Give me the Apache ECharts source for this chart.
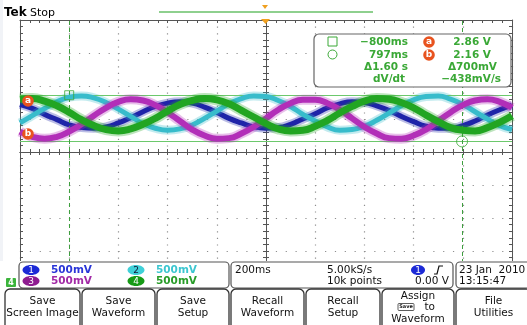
<!DOCTYPE html>
<html><head><meta charset="utf-8">
<script src="https://cdn.jsdelivr.net/npm/echarts@6/dist/echarts.min.js"></script>
<style>html,body{margin:0;padding:0;background:#fff}#c{width:527px;height:325px}</style>
</head><body><div id="c"></div>
<script>
// time (ms) relative to trigger, 200 ms/div
const times = [-1000,-950,-900,-850,-800,-750,-700,-650,-600,-550,-500,-450,-400,-350,-300,-250,-200,-150,-100,-50,0,50,100,150,200,250,300,350,400,450,500,550,600,650,700,750,800,850,900,950,1000];
// channel voltages (V), 500 mV/div
const ch1 = [2.72,2.66,2.57,2.49,2.41,2.37,2.36,2.38,2.44,2.52,2.61,2.69,2.74,2.76,2.74,2.68,2.60,2.51,2.44,2.38,2.36,2.37,2.42,2.50,2.58,2.67,2.73,2.76,2.75,2.70,2.63,2.54,2.46,2.39,2.36,2.36,2.40,2.47,2.56,2.64,2.71];
const ch2 = [2.44,2.55,2.66,2.76,2.83,2.85,2.82,2.75,2.65,2.54,2.43,2.36,2.33,2.35,2.41,2.51,2.62,2.73,2.81,2.85,2.84,2.78,2.69,2.57,2.47,2.38,2.33,2.34,2.39,2.48,2.59,2.70,2.79,2.84,2.85,2.80,2.72,2.61,2.50,2.40,2.34];
const ch3 = [2.31,2.23,2.20,2.23,2.31,2.42,2.55,2.67,2.76,2.80,2.78,2.71,2.60,2.47,2.34,2.25,2.20,2.21,2.28,2.38,2.51,2.64,2.74,2.79,2.79,2.74,2.64,2.51,2.38,2.28,2.21,2.20,2.25,2.34,2.47,2.60,2.71,2.78,2.80,2.76,2.67];
const ch4 = [2.80,2.81,2.77,2.70,2.60,2.49,2.40,2.34,2.32,2.35,2.42,2.51,2.62,2.72,2.78,2.81,2.79,2.73,2.63,2.53,2.43,2.35,2.32,2.33,2.39,2.48,2.59,2.69,2.77,2.81,2.80,2.75,2.67,2.56,2.46,2.37,2.33,2.32,2.37,2.45,2.55];
const cursorTimes = [-800, 797];
const cursorLevels = [2.86, 2.16];
const chColors = ['#1f24a8', '#38bccb', '#b22fb8', '#22a522'];
const chWidths = [5, 5, 6, 7];
const chNames = ['1', '2', '3', '4'];
const chScales = ['500mV', '500mV', '500mV', '500mV'];

const FONT = 'DejaVu Sans';
const GREEN = '#3aa836';
const tickStyle = {color: '#555', width: 1};

function xAx(extra) {
  return Object.assign({type: 'value', min: -1000, max: 1000, interval: 200,
    axisLabel: {show: false}, splitLine: {show: false},
    axisLine: {show: true, onZero: false, lineStyle: {color: '#555', width: 1}},
    axisTick: {show: true, inside: true, length: 3, lineStyle: tickStyle},
    minorTick: {show: true, splitNumber: 5, length: 3, lineStyle: tickStyle}}, extra);
}
function yAx(extra) {
  return Object.assign({type: 'value', min: 0, max: 4, interval: 0.5,
    axisLabel: {show: false}, splitLine: {show: false},
    axisLine: {show: true, onZero: false, lineStyle: {color: '#555', width: 1}},
    axisTick: {show: true, inside: true, length: 3, lineStyle: tickStyle},
    minorTick: {show: true, splitNumber: 5, length: 3, lineStyle: tickStyle}}, extra);
}

const series = [];
[ch1, ch2, ch3, ch4].forEach((vals, i) => {
  const data = times.map((t, k) => [t, vals[k]]);
  series.push({type: 'line', data, smooth: true, showSymbol: false, silent: true,
    lineStyle: {color: chColors[i], width: chWidths[i] + 4, opacity: 0.3}, z: 2 + i * 2});
  series.push({type: 'line', data, smooth: true, showSymbol: false, silent: true,
    lineStyle: {color: chColors[i], width: chWidths[i]}, z: 3 + i * 2});
});
series.push({type: 'scatter', silent: true, z: 20,
  data: [
    {value: [cursorTimes[0], cursorLevels[0]], symbol: 'rect', symbolSize: 9},
    {value: [cursorTimes[1], cursorLevels[1]], symbol: 'circle', symbolSize: 11}
  ],
  itemStyle: {color: 'rgba(0,0,0,0)', borderColor: GREEN, borderWidth: 1},
  markLine: {silent: true, symbol: 'none', label: {show: false},
    data: [
      {yAxis: cursorLevels[0], lineStyle: {color: '#6cc86c', type: 'solid', width: 1.2}},
      {yAxis: cursorLevels[1], lineStyle: {color: '#6cc86c', type: 'solid', width: 1.2}},
      {xAxis: cursorTimes[0], lineStyle: {color: '#3f9f3f', type: [4, 3], width: 1}},
      {xAxis: cursorTimes[1], lineStyle: {color: '#3f9f3f', type: [4, 3], width: 1}}
    ]}
});

const chart = echarts.init(document.getElementById('c'), null, {renderer: 'canvas'});

function txt(x, y, s, o) {
  return Object.assign({type: 'text', x, y, z: 101, style: Object.assign({text: s, fill: '#111',
    font: '10.5px "' + FONT + '"', textVerticalAlign: 'middle'}, o || {})});
}

const gfx = [];
// left pale strip
gfx.push({type: 'rect', z: 99, shape: {x: 0, y: 0, width: 3, height: 290}, style: {fill: '#f1f3f7'}});
// header
gfx.push(txt(4, 13, 'Tek', {font: 'bold 12px "' + FONT + '"', fill: '#000'}));
gfx.push(txt(30, 13, 'Stop', {font: '11px "' + FONT + '"', fill: '#000'}));
gfx.push({type: 'rect', z: 100, shape: {x: 159, y: 11, width: 214, height: 2}, style: {fill: '#8ed08e'}});
gfx.push({type: 'polygon', z: 100, shape: {points: [[262, 5], [268, 5], [265, 9]]}, style: {fill: '#f0a020'}});
gfx.push({type: 'polygon', z: 100, shape: {points: [[261, 19], [270, 19], [265.5, 24]]}, style: {fill: '#f0a020'}});

// measurement box
gfx.push({type: 'rect', z: 100, shape: {x: 314, y: 34, width: 197, height: 53, r: 5},
  style: {fill: '#fff', stroke: '#666', lineWidth: 1.2}});
gfx.push({type: 'rect', z: 101, shape: {x: 328, y: 37, width: 9, height: 9}, style: {fill: 'none', stroke: GREEN, lineWidth: 1}});
gfx.push({type: 'circle', z: 101, shape: {cx: 332.5, cy: 54.5, r: 4.5}, style: {fill: 'none', stroke: GREEN, lineWidth: 1}});
const mGreen = {fill: GREEN, font: 'bold 10.5px "' + FONT + '"', textAlign: 'right'};
gfx.push(txt(408, 42, '\u2212800ms', mGreen));
gfx.push(txt(408, 55, '797ms', mGreen));
gfx.push(txt(408, 67, '\u03941.60 s', mGreen));
gfx.push(txt(389, 79, 'dV/dt', Object.assign({}, mGreen, {textAlign: 'center'})));
gfx.push(txt(491, 42, '2.86 V', mGreen));
gfx.push(txt(491, 55, '2.16 V', mGreen));
gfx.push(txt(497, 67, '\u0394700mV', mGreen));
gfx.push(txt(501, 79, '\u2212438mV/s', mGreen));
function badge(cx, cy, s) {
  gfx.push({type: 'circle', z: 101, shape: {cx, cy, r: 5.8}, style: {fill: '#e8531f'}});
  gfx.push(txt(cx, cy, s, {fill: '#fff', font: 'bold 9px "' + FONT + '"', textAlign: 'center'}));
}
badge(429, 42, 'a');
badge(429, 55, 'b');
badge(28, 101, 'a');
badge(28, 134, 'b');

// bottom readout boxes
const boxStyle = {fill: '#fff', stroke: '#555', lineWidth: 1.2};
gfx.push({type: 'rect', z: 99, shape: {x: 0, y: 261, width: 527, height: 64}, style: {fill: '#fff'}});
gfx.push({type: 'rect', z: 100, shape: {x: 19, y: 262, width: 210, height: 26, r: 4}, style: boxStyle});
gfx.push({type: 'rect', z: 100, shape: {x: 231, y: 262, width: 222, height: 26, r: 4}, style: boxStyle});
gfx.push({type: 'rect', z: 100, shape: {x: 456, y: 262, width: 80, height: 26, r: 4}, style: boxStyle});
const chPos = [[31, 270], [136, 270], [31, 281], [136, 281]];
const chBadge = ['#1c2ad6', '#3fd0d8', '#8e1c90', '#169a16'];
const chTextCol = ['#2a36d8', '#3cc6d0', '#a22aa6', '#289c28'];
chNames.forEach((n, i) => {
  const [cx, cy] = chPos[i];
  gfx.push({type: 'ellipse', z: 101, shape: {cx, cy, rx: 8.5, ry: 5}, style: {fill: chBadge[i]}});
  gfx.push(txt(cx, cy + 0.5, n, {fill: i === 1 ? '#113' : '#fff', font: '9px "' + FONT + '"', textAlign: 'center'}));
  gfx.push(txt(cx + 20, cy, chScales[i], {fill: chTextCol[i], font: 'bold 10.5px "' + FONT + '"'}));
});
// ch4 ground marker
gfx.push({type: 'rect', z: 101, shape: {x: 6, y: 278, width: 10, height: 9, r: 1}, style: {fill: '#3cb43c'}});
gfx.push(txt(11, 282.5, '4', {fill: '#fff', font: 'bold 8px "' + FONT + '"', textAlign: 'center'}));
gfx.push(txt(235, 270, '200ms'));
gfx.push(txt(327, 270, '5.00kS/s'));
gfx.push(txt(327, 281, '10k points'));
gfx.push({type: 'ellipse', z: 101, shape: {cx: 418, cy: 270, rx: 7, ry: 5}, style: {fill: '#1c2ad6'}});
gfx.push(txt(418, 270.5, '1', {fill: '#fff', font: '9px "' + FONT + '"', textAlign: 'center'}));
gfx.push({type: 'polyline', z: 101, shape: {points: [[434, 274], [437, 274], [439, 266], [443, 266]]}, style: {stroke: '#111', lineWidth: 1.2, fill: 'none'}});
gfx.push(txt(449, 281, '0.00 V', {textAlign: 'right'}));
gfx.push(txt(459, 270, '23 Jan  2010'));
gfx.push(txt(459, 281, '13:15:47'));

// soft-key buttons
const buttons = [
  [5, 80, ['Save', 'Screen Image']],
  [82, 155, ['Save', 'Waveform']],
  [157, 229, ['Save', 'Setup']],
  [231, 304, ['Recall', 'Waveform']],
  [306, 380, ['Recall', 'Setup']],
  [382, 454, ['Assign', '       to', 'Waveform']],
  [456, 531, ['File', 'Utilities']]
];
buttons.forEach(([x0, x1, lines]) => {
  gfx.push({type: 'rect', z: 100, shape: {x: x0, y: 289, width: x1 - x0, height: 40, r: [5, 5, 0, 0]},
    style: {fill: '#fff', stroke: '#333', lineWidth: 1.3}});
  const cx = (x0 + x1) / 2;
  const ys = lines.length === 2 ? [301, 313] : [296, 307.5, 319];
  lines.forEach((l, j) => gfx.push(txt(cx, ys[j], l, {textAlign: 'center', font: '10.5px "' + FONT + '"', fill: '#111'})));
});
// small "Save" key icon in Assign button
gfx.push({type: 'rect', z: 101, shape: {x: 398, y: 303.5, width: 16, height: 7, r: 1}, style: {fill: '#fff', stroke: '#333', lineWidth: 0.8}});
gfx.push(txt(406, 307, 'Save', {textAlign: 'center', font: 'bold 5px "' + FONT + '"'}));

chart.setOption({
  animation: false,
  backgroundColor: '#fff',
  grid: {left: 20, right: 15, top: 20, bottom: 41, show: false},
  xAxis: [
    xAx({position: 'bottom', splitLine: {show: true, lineStyle: {color: '#8e8e8e', width: 1.2, type: [1.2, 5.4]}}}),
    xAx({position: 'top'}),
    xAx({position: 'bottom', offset: -132, axisTick: {show: true, inside: false, length: 3, lineStyle: tickStyle}}),
    xAx({position: 'bottom', offset: -132})
  ],
  yAxis: [
    yAx({position: 'left', splitLine: {show: true, lineStyle: {color: '#8e8e8e', width: 1.2, type: [1.2, 8.64]}}}),
    yAx({position: 'right'}),
    yAx({position: 'left', offset: -246, axisTick: {show: true, inside: false, length: 3, lineStyle: tickStyle}}),
    yAx({position: 'left', offset: -246})
  ],
  series,
  graphic: {elements: gfx}
});
</script>
</body></html>
